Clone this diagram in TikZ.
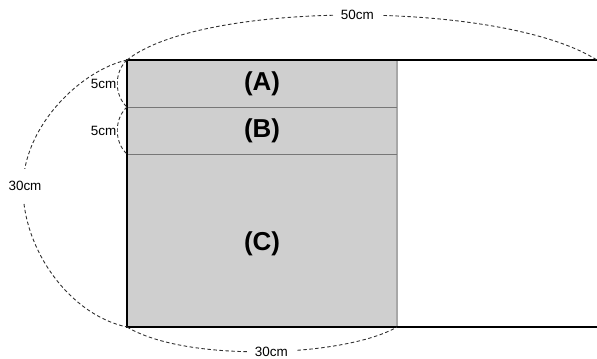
\documentclass[tikz,border=0pt]{standalone}
\usepackage{fontspec}
\setmainfont{Liberation Sans}
\definecolor{fillgray}{HTML}{CFCFCF}
\definecolor{edgegray}{HTML}{A8A8A8}
\definecolor{divgray}{HTML}{777777}
\definecolor{dimcol}{HTML}{303030}
\begin{document}
\begin{tikzpicture}[x=1bp,y=-1bp,
  dim/.style={draw=dimcol,line width=0.9bp,dash pattern=on 3.5bp off 2.5bp},
  lbl/.style={fill=white,inner xsep=7bp,inner ysep=1.5bp,font=\fontsize{13.5}{14}\selectfont},
  part/.style={font=\bfseries\fontsize{26}{28}\selectfont}]
\useasboundingbox (0,0) rectangle (597,358);
\coordinate (TL) at (127,60);
\coordinate (TR) at (597,60);
\coordinate (BL) at (127,327);
\coordinate (BR) at (597,327);
\coordinate (GT) at (397,60);
\coordinate (GB) at (397,327);
\coordinate (D1) at (127,107);
\coordinate (D2) at (127,154);
\coordinate (E1) at (397,107);
\coordinate (E2) at (397,154);
\coordinate (LM) at (23,188);
% gray region
\fill[fillgray] (TL) rectangle (GB);
\draw[edgegray,line width=1.5bp] (GT) -- (GB);
\draw[divgray,line width=0.9bp] (D1) -- (E1);
\draw[divgray,line width=0.9bp] (D2) -- (E2);
% outline
\draw[black,line width=2bp] (TR) -- (TL) -- (BL) -- (BR);
% part labels
\node[part] (A) at (262,84) {(A)};
\node[part] (B) at (262,131) {(B)};
\node[part] (C) at (262,244) {(C)};
% dimension curves
\draw[dim] (TL) .. controls +(75,-60) and +(-95,-60) .. (TR)
  node[pos=0.505,lbl] (l50) {50cm};
\draw[dim] (TL) .. controls +(-45,10) and +(0,-63) .. (LM)
  .. controls +(0,62) and +(-57,-12) .. (BL);
\node[lbl,inner xsep=1bp,inner ysep=12bp] (l30a) at (25,186) {30cm};
\draw[dim] (BL) .. controls +(60,36) and +(-52,30) .. (GB)
  node[pos=0.52,lbl] (l30b) {30cm};
\draw[dim] (TL) .. controls +(-13,12) and +(-13,-12) .. (D1)
  node[pos=0.5,lbl,anchor=east,inner xsep=0.5bp,inner ysep=0.5bp] (l5a) {5cm};
\draw[dim] (D1) .. controls +(-13,12) and +(-13,-12) .. (D2)
  node[pos=0.5,lbl,anchor=east,inner xsep=0.5bp,inner ysep=0.5bp] (l5b) {5cm};
\end{tikzpicture}
\end{document}
